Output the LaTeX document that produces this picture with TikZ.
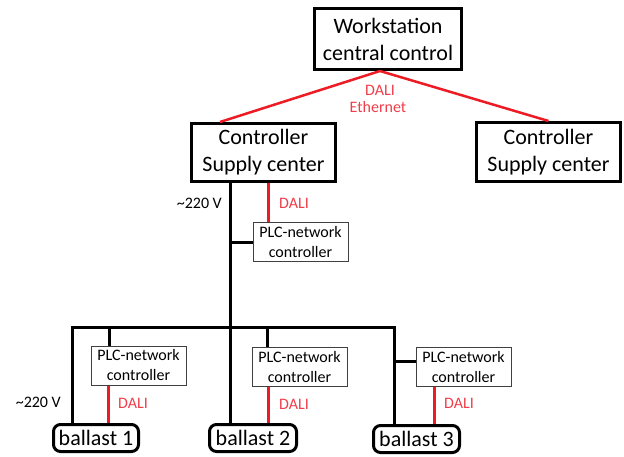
\documentclass[tikz,border=0pt]{standalone}
\usepackage{fontspec}
\setmainfont{Carlito}
\definecolor{dalired}{RGB}{237,28,36}
\definecolor{dalitext}{RGB}{239,62,74}

\begin{document}
\begin{tikzpicture}[x=1pt,y=-1pt,
    bigbox/.style={draw,line width=3pt,align=center,inner sep=0pt,font=\fontsize{22}{27}\selectfont},
    plcbox/.style={draw=black!75,line width=1pt,align=center,inner sep=0pt,
        minimum width=95pt,minimum height=39pt,font=\fontsize{16}{20}\selectfont},
    ballastbox/.style={bigbox,rounded corners=7pt,minimum height=27pt},
    mains/.style={line width=3pt},
    dali/.style={draw=dalired,line width=3pt},
    lbl/.style={inner sep=0pt,font=\fontsize{16}{20}\selectfont},
    dalilbl/.style={lbl,text=dalitext}]
    \useasboundingbox (0,0) rectangle (624,457);
    \node[bigbox,minimum width=147pt,minimum height=61pt] (ws) at (388,39) {Workstation\\central control};
    \node[bigbox,minimum width=144pt,minimum height=58pt] (cl) at (263.5,152.5) {Controller\\Supply center};
    \node[bigbox,minimum width=144pt,minimum height=59pt] (cr) at (548.5,152) {Controller\\Supply center};
    \node[plcbox] (p0) at (300.5,242.5) {PLC-network\\controller};
    \node[plcbox] (p1) at (138.5,365.5) {PLC-network\\controller};
    \node[plcbox] (p2) at (299.5,367) {PLC-network\\controller};
    \node[plcbox] (p3) at (463.5,367) {PLC-network\\controller};
    \node[ballastbox,minimum width=85pt] (b1) at (96,438) {ballast 1};
    \node[ballastbox,minimum width=87pt] (b2) at (253,438) {ballast 2};
    \node[ballastbox,minimum width=86pt] (b3) at (416.5,439) {ballast 3};
    \coordinate (tl) at (72,327);
    \coordinate (tm) at (230,327);
    \coordinate (tr) at (394,327);
    \coordinate (s1) at (109,327);
    \coordinate (s2) at (267,327);
    \coordinate (d1) at (108,0);
    \coordinate (d2) at (268,0);
    \coordinate (d3) at (434,0);
    \draw[dali,line width=2.5pt] ([xshift=-8pt]ws.south) -- ([xshift=30pt]cl.north west);
    \draw[dali,line width=2.5pt] ([xshift=-8pt]ws.south) -- (cr.north);
    \draw[mains] (tm |- cl.south) -- (tm |- b2.north);
    \draw[mains] (tm |- p0.west) -- (p0.west);
    \draw[mains] (tl |- b1.north) -- (tl) -- (tr) -- (tr |- b3.north);
    \draw[mains] (s1) -- (s1 |- p1.north);
    \draw[mains] (s2) -- (s2 |- p2.north);
    \draw[mains] (tr |- 0,361) -- (p3.west |- 0,361);
    \draw[dali] (d2 |- cl.south) -- (d2 |- p0.north);
    \draw[dali] (d1 |- p1.south) -- (d1 |- b1.north);
    \draw[dali] (d2 |- p2.south) -- (d2 |- b2.north);
    \draw[dali] (d3 |- p3.south) -- (d3 |- b3.north);
    \node[dalilbl] (t1) at (380,90) {DALI};
    \node[dalilbl] (t2) at (378,107) {Ethernet};
    \node[lbl,anchor=east] (v1) at (222,203) {\textasciitilde220 V};
    \node[dalilbl,anchor=west] (t3) at (279,203) {DALI};
    \node[lbl,anchor=east] (v2) at (61,402) {\textasciitilde220 V};
    \node[dalilbl,anchor=west] (t4) at (118,403) {DALI};
    \node[dalilbl,anchor=west] (t5) at (279,404) {DALI};
    \node[dalilbl,anchor=west] (t6) at (444,403) {DALI};
\end{tikzpicture}
\end{document}
